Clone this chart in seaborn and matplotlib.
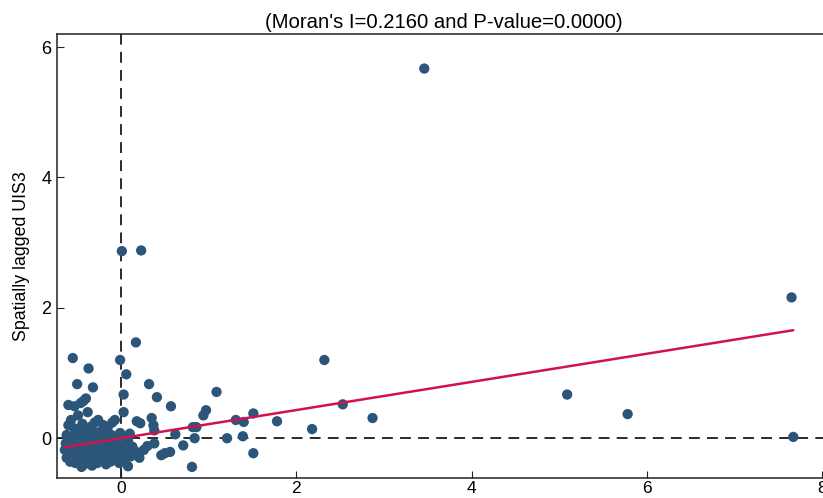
import numpy as np
import pandas as pd
import matplotlib
matplotlib.use("Agg")
import matplotlib.pyplot as plt
import seaborn as sns

# ---- data ----
moran_i = 0.2160
p_value = 0.0000

x_sparse = [3.46, 0.01, 0.23, 7.65, 7.67, 5.09, 5.78, 2.32, 2.53, 2.87, 2.18, 1.78,
            1.51, 1.51, 1.40, 1.31, 1.39, 1.21, 1.09, 0.97, 0.94, 0.82, 0.86, 0.84,
            0.81, 0.71, 0.62, 0.57, 0.56, 0.50, 0.46, 0.41, 0.32, 0.17, 0.06, -0.01,
            0.03, 0.03, -0.55, -0.37, -0.50, -0.32, -0.40, -0.60, -0.53, -0.46, -0.43, 0.08]
y_sparse = [5.67, 2.87, 2.88, 2.16, 0.02, 0.67, 0.37, 1.20, 0.52, 0.31, 0.14, 0.26,
            0.38, -0.23, 0.25, 0.28, 0.03, 0.00, 0.71, 0.43, 0.35, 0.17, 0.17, 0.00,
            -0.44, -0.11, 0.06, 0.49, -0.21, -0.23, -0.26, 0.63, 0.83, 1.47, 0.98, 1.20,
            0.67, 0.40, 1.23, 1.07, 0.83, 0.78, 0.61, 0.51, 0.49, 0.54, 0.57, -0.43]

x_cluster = [-0.62, -0.58, -0.52, -0.47, -0.42, -0.37, -0.33, -0.27, -0.22, -0.17, -0.12, -0.06,
             -0.02, 0.04, -0.45, -0.30,
             -0.64, -0.60, -0.55, -0.50, -0.45, -0.40, -0.35, -0.30, -0.25, -0.20, -0.15, -0.10,
             -0.05, 0.00, 0.06, 0.11, 0.16, 0.21,
             -0.63, -0.59, -0.54, -0.49, -0.44, -0.39, -0.34, -0.29, -0.24, -0.19, -0.14, -0.09,
             -0.04, 0.02, 0.08, 0.13, 0.26, 0.38, 0.30,
             -0.62, -0.56, -0.51, -0.46, -0.41, -0.36, -0.31, -0.26, -0.21, -0.16, -0.11, -0.06,
             -0.01, 0.05, 0.10,
             -0.60, -0.57, -0.49, -0.44, -0.38, -0.34, -0.26, -0.20, -0.15, -0.10, -0.07, 0.18,
             0.22, 0.35, 0.37, 0.38, -0.53, -0.30]
y_cluster = [-0.30, -0.36, -0.38, -0.33, -0.40, -0.36, -0.42, -0.38, -0.34, -0.40, -0.36, -0.33,
             -0.38, -0.31, -0.44, -0.30,
             -0.18, -0.22, -0.26, -0.20, -0.25, -0.22, -0.27, -0.20, -0.24, -0.19, -0.26, -0.21,
             -0.25, -0.18, -0.22, -0.28, -0.20, -0.30,
             -0.08, -0.12, -0.05, -0.14, -0.09, -0.03, -0.12, -0.07, -0.13, -0.04, -0.10, -0.15,
             -0.06, -0.11, -0.04, -0.13, -0.18, -0.08, -0.12,
             0.05, 0.02, 0.10, 0.04, 0.12, 0.06, 0.00, 0.09, 0.03, 0.11, 0.05, 0.01,
             0.08, 0.02, 0.07,
             0.20, 0.28, 0.35, 0.22, 0.40, 0.18, 0.28, 0.20, 0.17, 0.24, 0.28, 0.26,
             0.23, 0.31, 0.20, 0.12, 0.15, 0.24]

title = f"(Moran's I={moran_i:.4f} and P-value={p_value:.4f})"
ylabel = "Spatially lagged UIS3"
xticks = [0, 2, 4, 6, 8]
yticks = [0, 2, 4, 6]

df = pd.DataFrame({"z": x_sparse + x_cluster, "wz": y_sparse + y_cluster})

# ---- plot ----
sns.set_theme(style="white")
plt.rcParams["font.family"] = ["Liberation Sans", "DejaVu Sans"]
plt.rcParams["text.color"] = "black"
plt.rcParams["axes.labelcolor"] = "black"
plt.rcParams["xtick.color"] = "black"
plt.rcParams["ytick.color"] = "black"

fig = plt.figure(figsize=(8.23, 4.98), dpi=100)
ax = fig.add_axes([57 / 823, 20 / 498, 774 / 823, 444 / 498])

ax.axvline(0, color="#1a1a1a", lw=1.3, ls=(0, (6, 4)), zorder=1)
ax.axhline(0, color="#1a1a1a", lw=1.3, ls=(0, (6, 4)), zorder=1)

sns.scatterplot(data=df, x="z", y="wz", ax=ax, color="#2c5679", s=55,
                edgecolor="none", linewidth=0, zorder=2)

xs = np.array([df["z"].min(), df["z"].max()])
ax.plot(xs, moran_i * xs, color="#d11150", lw=1.8, zorder=3)

ax.set_xlim(-0.73, 8.1)
ax.set_ylim(-0.61, 6.2)
ax.set_xticks(xticks)
ax.set_yticks(yticks)
ax.set_xlabel("")
ax.set_ylabel(ylabel, fontsize=12.8, labelpad=8, color="black")
ax.set_title(title, fontsize=14.6, pad=4, color="black")

for sp in ax.spines.values():
    sp.set_visible(True)
    sp.set_color("#222222")
    sp.set_linewidth(1.1)
ax.tick_params(axis="both", direction="in", length=5, width=0.8, color="#222222",
               labelcolor="black", labelsize=13, bottom=True, left=True, pad=4)
ax.tick_params(axis="x", pad=2, labelsize=12.5)

fig.savefig("out.png", dpi=100)
